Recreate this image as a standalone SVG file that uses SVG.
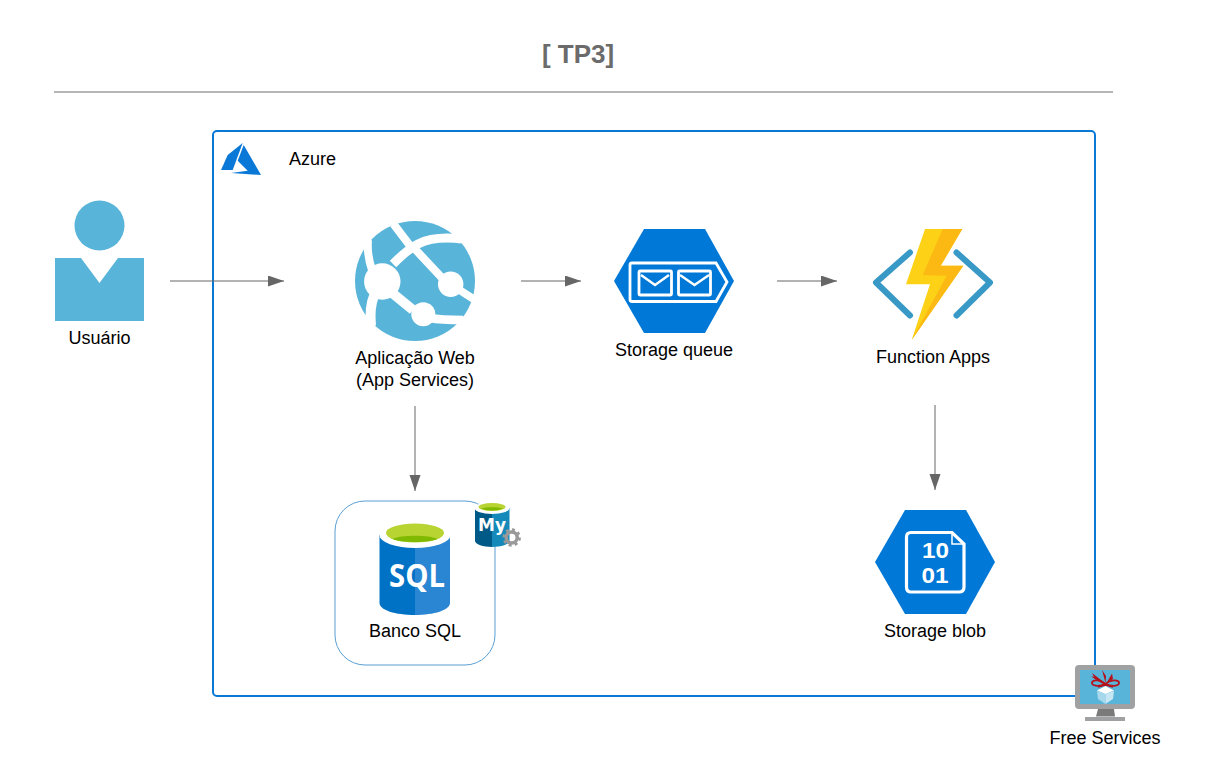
<svg xmlns="http://www.w3.org/2000/svg" width="1210" height="779" viewBox="0 0 1210 779">
<style>
.l{font-family:"Liberation Sans",Arial,sans-serif;font-size:18px;fill:#000;text-anchor:middle}
.c{fill:none;stroke:#666;stroke-width:1;marker-end:url(#a)}
.w{fill:none;stroke:#fff}
.b{font-family:"Open Sans","Liberation Sans",sans-serif;font-weight:700;fill:#fff;text-anchor:middle}
.d{font-family:"Liberation Sans",Arial,sans-serif;font-weight:700;font-size:21.5px;fill:#fff;text-anchor:middle}
</style>
<defs>
<marker id="a" markerUnits="userSpaceOnUse" markerWidth="17" markerHeight="12" refX="16" refY="5.5" orient="auto"><path d="M0 0L16 5.500L0 11z" fill="#666"/></marker>
</defs>
<rect width="1210" height="779" fill="#fff"/>
<g id="title">
<text x="578" y="63" font-family="Liberation Sans,Arial,sans-serif" font-size="26" font-weight="700" fill="#6b6b6b" text-anchor="middle">[ TP3]</text>
<path d="M54 92H1113" stroke="#b5b5b5" stroke-width="2"/>
</g>
<g id="azure">
<rect x="213" y="131" width="882" height="565" rx="4" fill="none" stroke="#0a78d7" stroke-width="2"/>
<path d="M242.700 143L227.700 155L221 170H232.700z" fill="#0a78d7"/>
<path d="M243.700 145L237.700 160.700L247.700 170.700L231 173L261 175z" fill="#0a78d7"/>
<text class="l" x="289" y="165" style="text-anchor:start">Azure</text>
</g>
<g id="connectors">
<path class="c" d="M170 281H284"/>
<path class="c" d="M521 281H581"/>
<path class="c" d="M777 281H837"/>
<path class="c" d="M415 406V491"/>
<path class="c" d="M935 405V490"/>
</g>
<g id="user">
<circle cx="99.500" cy="225.500" r="25" fill="#59b4d9"/>
<path d="M55 258H81L99.500 283L118 258H144V321H55z" fill="#59b4d9"/>
<text class="l" x="99.500" y="344">Usuário</text>
</g>
<g id="webapp">
<circle cx="415" cy="281" r="60" fill="#59b4d9"/>
<path class="w" stroke-width="8" d="M393.500 224L411 247M414 248L443 279M458 289L475 300"/>
<path class="w" stroke-width="9" d="M393 264C402 255 410 248 418 244C430 238 445 237 462 239"/>
<path class="w" stroke-width="8" d="M368 240C367 252 369 261 372 270"/>
<path class="w" stroke-width="10" d="M374 296C370 305 370 315 371 326"/>
<path class="w" stroke-width="10" d="M391 292L413 310"/>
<path class="w" stroke-width="8.500" d="M430 318C440 320 452 320 463 320"/>
<circle cx="382.300" cy="281.500" r="18.200" fill="#fff"/>
<circle cx="450.700" cy="284.300" r="12.700" fill="#fff"/>
<circle cx="423.300" cy="314.300" r="12" fill="#fff"/>
<text class="l" x="415" y="364">Aplicação Web</text>
<text class="l" x="415" y="386">(App Services)</text>
</g>
<g id="queue">
<path d="M644 229H705L734 281L705 333H644L614 281z" fill="#0078d7"/>
<path d="M632 263H716L727 282L716 301.500H632Q630 301.500 630 299.500V265Q630 263 632 263z" fill="none" stroke="#fff" stroke-width="2.800"/>
<rect x="639" y="271" width="32.500" height="24" rx="1" fill="none" stroke="#fff" stroke-width="2.800"/>
<rect x="678.500" y="271" width="32" height="24" rx="1" fill="none" stroke="#fff" stroke-width="2.800"/>
<path d="M641 275L655 285L669 275M680 275L694.500 285L709 275" fill="none" stroke="#fff" stroke-width="2.400"/>
<text class="l" x="674" y="356">Storage queue</text>
</g>
<g id="function">
<path d="M910 252.500L876 282.500L910 315.500M956.500 252.500L990 282.500L956.500 315.500" fill="none" stroke="#3999c6" stroke-width="6" stroke-linecap="round" stroke-linejoin="round"/>
<path d="M925 229H962.300L940.700 265.700H963.300L911.700 340L930 284.300H906z" fill="#fcd116"/>
<path d="M942.700 229H962.300L940.700 265.700H963.300L911.700 340L946.700 275.700L922.700 275z" fill="#fdb913"/>
<text class="l" x="933" y="363">Function Apps</text>
</g>
<g id="blob">
<path d="M905 510H966L995 562L966 614H905L875 562z" fill="#0078d7"/>
<path d="M911 532.500H952L964 544V587Q964 592 959 592H911Q906.500 592 906.500 587V537Q906.500 532.500 911 532.500z" fill="none" stroke="#fff" stroke-width="3.200"/>
<path d="M952 532.500V544H964" fill="none" stroke="#fff" stroke-width="1.500"/>
<text class="d" x="935.500" y="557.800" textLength="27" lengthAdjust="spacingAndGlyphs">10</text>
<text class="d" x="935" y="582.600" textLength="27" lengthAdjust="spacingAndGlyphs">01</text>
<text class="l" x="935" y="637">Storage blob</text>
</g>
<g id="sql">
<rect x="335" y="501" width="160" height="164" rx="30" fill="#fff" stroke="#5a9fd4" stroke-width="1"/>
<path d="M379.500 535V603C379.500 610 395 615 415 615V535z" fill="#0072c6"/>
<path d="M450 535V603C450 610 434 615 415 615V535z" fill="#2a85d2"/>
<ellipse cx="415" cy="535" rx="35.500" ry="13" fill="#fff"/>
<ellipse cx="415" cy="533" rx="29" ry="9.500" fill="#b8d432"/>
<path d="M392.500 539C400 534.500 430 534.500 437.500 539C430 543 400 543 392.500 539z" fill="#7fba00"/>
<text class="b" x="417" y="587" font-size="32" textLength="56" lengthAdjust="spacingAndGlyphs">SQL</text>
<text class="l" x="415" y="637">Banco SQL</text>
</g>
<g id="mysql">
<path d="M475 508V541C475 544 483 547 492 547V508z" fill="#005a87"/>
<path d="M509.500 508V541C509.500 544 501 547 492 547V508z" fill="#1589b9"/>
<ellipse cx="492" cy="508" rx="17.500" ry="6" fill="#fff"/>
<ellipse cx="492" cy="507" rx="13.500" ry="4" fill="#b8d432"/>
<path d="M481 508.500C486 506.800 498 506.800 503 508.500C498 511 486 511 481 508.500z" fill="#7fba00"/>
<text x="492" y="531" font-family="DejaVu Sans,sans-serif" font-weight="700" font-size="17" fill="#fff" text-anchor="middle">My</text>
<circle cx="511.700" cy="537.500" r="5.500" fill="none" stroke="#999" stroke-width="3.500"/>
<circle cx="511.700" cy="537.500" r="8" fill="none" stroke="#999" stroke-width="2.500" stroke-dasharray="3 3.280"/>
</g>
<g id="free">
<rect x="1075" y="665" width="60" height="44" rx="4" fill="#a0a1a2"/>
<rect x="1080" y="670" width="50" height="34" fill="#59b4d9"/>
<path d="M1098 709H1114L1115 716.500H1096z" fill="#7a7a7a"/>
<rect x="1085" y="717" width="40" height="4" fill="#a0a1a2"/>
<path d="M1097 691L1105.500 694V704L1098 699z" fill="#a8d8ec"/>
<path d="M1114 691L1105.500 694V704L1113 699z" fill="#c6e6f3"/>
<path d="M1097 690.500L1105.500 686L1114 690.500L1105.500 694z" fill="#fff"/>
<path d="M1098 687L1105.500 685L1113 687" fill="none" stroke="#b5121b" stroke-width="1.500"/>
<path d="M1105.500 684C1098 687 1091.500 686 1092 682.500C1093 679 1101 680 1105.500 684C1110 680 1118 679 1119 682.500C1119.500 686 1113 687 1105.500 684z" fill="none" stroke="#b5121b" stroke-width="1.800"/>
<path d="M1105 683L1092 673L1094 677L1091 676.500L1103 684zM1105.500 683L1102 670L1106 676zM1106 684L1112 673.500L1113 679z" fill="#b5121b"/>
<text class="l" x="1105" y="744">Free Services</text>
</g>
</svg>
